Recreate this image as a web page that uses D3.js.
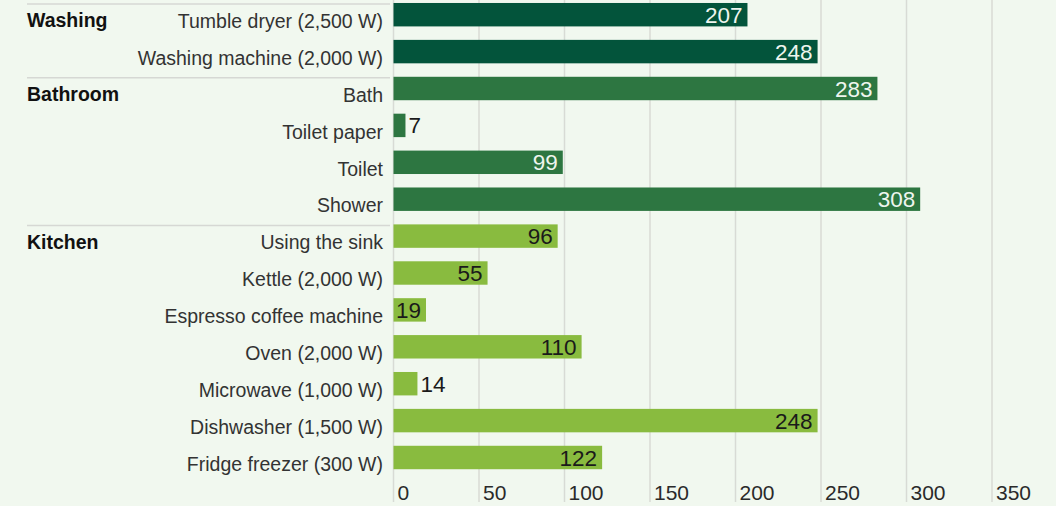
<!DOCTYPE html>
<html>
<head>
<meta charset="utf-8">
<script src="https://cdn.jsdelivr.net/npm/d3@7"></script>
<style>
  html, body { margin: 0; padding: 0; background: #f1f8ef; }
  svg { display: block; font-family: "Liberation Sans", Arial, sans-serif; }
</style>
</head>
<body>
<svg id="chart" width="1056" height="506"></svg>
<script>
// data
const groupNames = ["Washing", "Bathroom", "Kitchen"];
const groups = ["Washing", "Washing", "Bathroom", "Bathroom", "Bathroom", "Bathroom",
  "Kitchen", "Kitchen", "Kitchen", "Kitchen", "Kitchen", "Kitchen", "Kitchen"];
const categories = ["Tumble dryer (2,500 W)", "Washing machine (2,000 W)", "Bath", "Toilet paper",
  "Toilet", "Shower", "Using the sink", "Kettle (2,000 W)", "Espresso coffee machine",
  "Oven (2,000 W)", "Microwave (1,000 W)", "Dishwasher (1,500 W)", "Fridge freezer (300 W)"];
const values = [207, 248, 283, 7, 99, 308, 96, 55, 19, 110, 14, 248, 122];
const tickValues = [0, 50, 100, 150, 200, 250, 300, 350];

const groupColor = d3.scaleOrdinal()
  .domain(groupNames)
  .range(["#03543b", "#2d7641", "#89bb3f"]);
const labelColor = d3.scaleOrdinal()
  .domain(groupNames)
  .range(["#eef5ee", "#eef5ee", "#1a1a1a"]);

const rows = categories.map((c, i) => ({ cat: c, group: groups[i], value: values[i] }));

const svg = d3.select("#chart");

const x = d3.scaleLinear().domain([0, 350]).range([393.5, 992]);
const y = d3.scaleBand()
  .domain(categories)
  .range([-3.75, 475.95])
  .paddingInner(0.365)
  .paddingOuter(0.1825);

// grid lines + tick labels
const grid = svg.append("g");
grid.selectAll("line")
  .data(tickValues)
  .enter()
  .append("line")
  .attr("x1", (d) => x(d))
  .attr("x2", (d) => x(d))
  .attr("y1", 0)
  .attr("y2", 502)
  .attr("stroke", "#d8dbd5")
  .attr("stroke-width", 1.5);

grid.selectAll("text")
  .data(tickValues)
  .enter()
  .append("text")
  .attr("x", (d) => x(d) + 4)
  .attr("y", 500)
  .attr("font-size", 21)
  .attr("fill", "#2a2a2a")
  .text((d) => d);

// group separators
const firstRows = groupNames.map((g) => rows.find((r) => r.group === g));
svg.append("g").selectAll("line")
  .data(firstRows)
  .enter()
  .append("line")
  .attr("x1", 27)
  .attr("x2", 390)
  .attr("y1", (d) => y(d.cat) + 1)
  .attr("y2", (d) => y(d.cat) + 1)
  .attr("stroke", "#d6d8d4")
  .attr("stroke-width", 1.5);

// group names
svg.append("g").selectAll("text")
  .data(firstRows)
  .enter()
  .append("text")
  .attr("x", 27)
  .attr("y", (d) => y(d.cat) + y.bandwidth() + 1)
  .attr("font-size", 19.5)
  .attr("font-weight", "bold")
  .attr("fill", "#111")
  .text((d) => d.group);

// category labels
svg.append("g").selectAll("text")
  .data(rows)
  .enter()
  .append("text")
  .attr("x", 383)
  .attr("y", (d) => y(d.cat) + y.bandwidth() + 1.5)
  .attr("text-anchor", "end")
  .attr("font-size", 19.5)
  .attr("fill", "#333")
  .text((d) => d.cat);

// bars
svg.append("g").selectAll("rect")
  .data(rows)
  .enter()
  .append("rect")
  .attr("x", x(0))
  .attr("y", (d) => y(d.cat))
  .attr("width", (d) => x(d.value) - x(0))
  .attr("height", y.bandwidth())
  .attr("fill", (d) => groupColor(d.group));

// value labels
svg.append("g").selectAll("text")
  .data(rows)
  .enter()
  .append("text")
  .attr("x", (d) => d.value < 15 ? x(d.value) + 3 : x(d.value) - 5)
  .attr("y", (d) => y(d.cat) + y.bandwidth() / 2 + 8)
  .attr("text-anchor", (d) => d.value < 15 ? "start" : "end")
  .attr("font-size", 22.5)
  .attr("fill", (d) => d.value < 15 ? "#1a1a1a" : labelColor(d.group))
  .text((d) => d.value);
</script>
</body>
</html>
